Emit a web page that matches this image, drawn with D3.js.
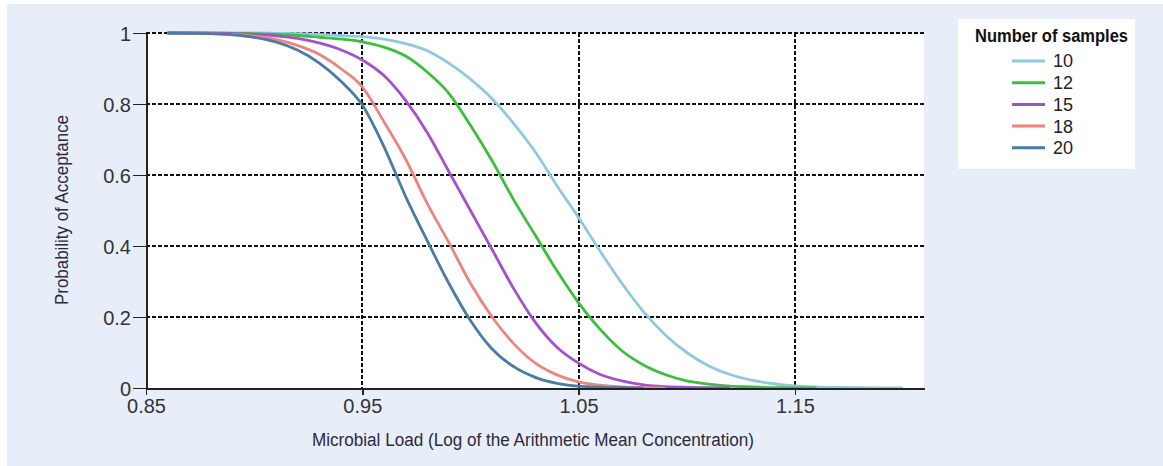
<!DOCTYPE html>
<html lang="en">
<head>
<meta charset="UTF-8">
<title>Probability of Acceptance</title>
<script src="https://d3js.org/d3.v7.min.js"></script>
<style>
body { margin: 0; background: #fff; }
svg text { font-family: "Liberation Sans", Arial, sans-serif; fill: #222; }
.axis path, .axis line { stroke: #222; shape-rendering: crispEdges; }
.grid line { stroke: #111; stroke-width: 1.6; stroke-dasharray: 4,2; shape-rendering: crispEdges; }
</style>
</head>
<body>
<script>
// sample sizes and colours
var series = ["10", "12", "15", "18", "20"];
var colors = ["#90c8e0", "#3cbf3c", "#a450cc", "#ec8480", "#4a7ba4"];

// microbial load (log) grid
var xs = [0.86, 0.87, 0.88, 0.89, 0.90, 0.91, 0.92, 0.93, 0.94, 0.95, 0.96, 0.97, 0.98, 0.99, 1.00,
          1.01, 1.02, 1.03, 1.04, 1.05, 1.06, 1.07, 1.08, 1.09, 1.10, 1.11, 1.12, 1.13, 1.14, 1.15,
          1.16, 1.17, 1.18, 1.19, 1.20];

// probability of acceptance
var p10 = [1, 1, 1, 1, 1, 0.999, 0.998, 0.996, 0.993, 0.99, 0.983, 0.97, 0.95, 0.915, 0.87,
           0.815, 0.745, 0.665, 0.57, 0.48, 0.385, 0.295, 0.215, 0.15, 0.1, 0.063, 0.038, 0.022, 0.012, 0.006,
           0.003, 0.0015, 0.0007, 0.0003, 0];
var p12 = [1, 1, 1, 0.999, 0.998, 0.996, 0.993, 0.988, 0.983, 0.975, 0.96, 0.935, 0.89, 0.83, 0.74,
           0.64, 0.53, 0.43, 0.33, 0.24, 0.165, 0.105, 0.065, 0.038, 0.02, 0.011, 0.005, 0.003, 0.001, 0.0005,
           0];
var p15 = [1, 1, 0.999, 0.998, 0.996, 0.992, 0.985, 0.972, 0.953, 0.924, 0.88, 0.81, 0.72, 0.61, 0.5,
           0.39, 0.28, 0.185, 0.115, 0.07, 0.038, 0.02, 0.009, 0.004, 0.002, 0.001, 0];
var p18 = [1, 0.999, 0.998, 0.996, 0.991, 0.982, 0.965, 0.94, 0.9, 0.848, 0.75, 0.645, 0.52, 0.41, 0.295,
           0.2, 0.125, 0.07, 0.037, 0.017, 0.008, 0.003, 0.001, 0];
var p20 = [1, 0.999, 0.998, 0.995, 0.988, 0.975, 0.952, 0.916, 0.865, 0.797, 0.68, 0.54, 0.415, 0.295, 0.19,
           0.11, 0.06, 0.03, 0.013, 0.005, 0.002, 0.001, 0];

var xTicks = [0.85, 0.95, 1.05, 1.15];
var yTicks = [0, 0.2, 0.4, 0.6, 0.8, 1];

window.onload = function () {
  var W = 1163, H = 466;
  var left = 146, right = 924, top = 33, bottom = 388;

  var svg = d3.select("body").append("svg").attr("width", W).attr("height", H);

  svg.append("rect").attr("x", 7).attr("y", 4).attr("width", W - 7).attr("height", H - 4)
     .attr("fill", "#e8eef9");
  svg.append("rect").attr("x", left).attr("y", top).attr("width", right - left).attr("height", bottom - top)
     .attr("fill", "#fff");

  var x = d3.scaleLinear().domain([0.85, 1.2097]).range([left, right]);
  var y = d3.scaleLinear().domain([0, 1]).range([bottom, top]);

  // grid
  var grid = svg.append("g").attr("class", "grid");
  grid.selectAll(".h").data(yTicks.slice(1)).enter().append("line")
      .attr("x1", left).attr("x2", right)
      .attr("y1", function (d) { return Math.round(y(d)); })
      .attr("y2", function (d) { return Math.round(y(d)); });
  grid.selectAll(".v").data(xTicks.slice(1)).enter().append("line")
      .attr("y1", top).attr("y2", bottom)
      .attr("x1", function (d) { return Math.round(x(d)); })
      .attr("x2", function (d) { return Math.round(x(d)); });

  // curves
  var all = [p10, p12, p15, p18, p20];
  var line = d3.line()
      .x(function (d) { return x(d[0]); })
      .y(function (d) { return y(d[1]); })
      .curve(d3.curveMonotoneX);
  all.forEach(function (vals, i) {
    var pts = vals.map(function (v, j) { return [xs[j], v]; });
    svg.append("path").datum(pts)
       .attr("d", line)
       .attr("fill", "none")
       .attr("stroke", colors[i])
       .attr("stroke-width", 2.8)
       .attr("stroke-linejoin", "round");
  });

  // axes
  var xAxis = d3.axisBottom(x).tickValues(xTicks).tickSize(7).tickSizeOuter(0)
      .tickFormat(function (d) { return d3.format(".2f")(d); });
  var gx = svg.append("g").attr("class", "axis")
      .attr("transform", "translate(0," + bottom + ")").call(xAxis);
  gx.select(".domain").attr("stroke-width", 2);
  gx.selectAll("text").attr("y", 10).attr("dy", "0.75em")
    .style("font-size", "20px").style("fill", "#333");

  var yAxis = d3.axisLeft(y).tickValues(yTicks).tickSize(13).tickSizeOuter(0)
      .tickFormat(function (d) { return d3.format("")(d); });
  var gy = svg.append("g").attr("class", "axis")
      .attr("transform", "translate(" + left + ",0)").call(yAxis);
  gy.select(".domain").attr("stroke-width", 2);
  gy.selectAll("text").attr("x", -15).attr("dy", "0.36em")
    .style("font-size", "20px").style("fill", "#333");
  gx.selectAll(".tick line").attr("stroke-width", 1.5);
  gy.selectAll(".tick line").attr("stroke-width", 1.5);

  // axis titles
  svg.append("text").attr("x", (left + right) / 2 - 2).attr("y", 446)
     .attr("text-anchor", "middle").style("font-size", "18px")
     .attr("textLength", 442).attr("lengthAdjust", "spacingAndGlyphs")
     .style("fill", "#2a2a3a")
     .text("Microbial Load (Log of the Arithmetic Mean Concentration)");
  svg.append("text").attr("transform", "translate(68,210) rotate(-90)")
     .attr("text-anchor", "middle").style("font-size", "18px")
     .attr("textLength", 190).attr("lengthAdjust", "spacingAndGlyphs")
     .style("fill", "#2a2a3a")
     .text("Probability of Acceptance");

  // legend
  var lg = svg.append("g");
  lg.append("rect").attr("x", 958).attr("y", 19).attr("width", 177).attr("height", 150).attr("fill", "#fff");
  lg.append("text").attr("x", 975).attr("y", 42).style("font-size", "18px").attr("font-weight", "bold")
    .attr("textLength", 153).attr("lengthAdjust", "spacingAndGlyphs")
    .style("fill", "#111").text("Number of samples");
  var items = lg.selectAll(".it").data(series).enter().append("g")
      .attr("transform", function (d, i) { return "translate(0," + (61 + i * 21.7) + ")"; });
  items.append("line").attr("x1", 1012).attr("x2", 1045)
      .attr("stroke", function (d, i) { return colors[i]; }).attr("stroke-width", 3);
  items.append("text").attr("x", 1053).attr("y", 0).attr("dy", "0.36em").style("font-size", "18px")
      .text(function (d) { return d; });
};
</script>
</body>
</html>
